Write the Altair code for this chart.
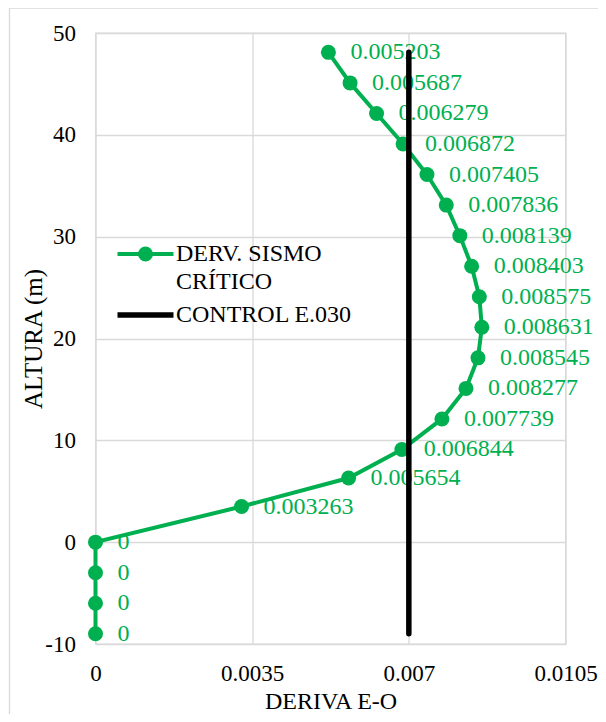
import altair as alt
import pandas as pd

# ---- data ----
alturas = [48.1, 45.1, 42.1, 39.1, 36.1, 33.1, 30.1, 27.1, 24.1, 21.1,
           18.1, 15.1, 12.1, 9.1, 6.3, 3.5, 0, -3, -6, -9]
derivas = [0.005203, 0.005687, 0.006279, 0.006872, 0.007405, 0.007836,
           0.008139, 0.008403, 0.008575, 0.008631, 0.008545, 0.008277,
           0.007739, 0.006844, 0.005654, 0.003263, 0, 0, 0, 0]
etiquetas = ["0.005203", "0.005687", "0.006279", "0.006872", "0.007405",
             "0.007836", "0.008139", "0.008403", "0.008575", "0.008631",
             "0.008545", "0.008277", "0.007739", "0.006844", "0.005654",
             "0.003263", "0", "0", "0", "0"]
control_x = [0.007, 0.007]
control_y = [-9, 48.1]
series = ["DERV. SISMO|CRÍTICO", "CONTROL E.030"]
x_ticks = [0, 0.0035, 0.007, 0.0105]
y_ticks = [-10, 0, 10, 20, 30, 40, 50]

GREEN = "#00B050"
FONT = "Liberation Serif"

df = pd.DataFrame({"idx": range(len(alturas)), "deriva": derivas,
                   "altura": alturas, "label": etiquetas, "serie": series[0]})
dfc = pd.DataFrame({"idx": range(2), "deriva": control_x, "altura": control_y,
                    "serie": series[1]})

xs = alt.Scale(domain=[0, 0.0105], nice=False, zero=False)
ys = alt.Scale(domain=[-10, 50], nice=False, zero=False)

x_enc = alt.X("deriva:Q", scale=xs, title="DERIVA E-O",
              axis=alt.Axis(values=x_ticks, labelExpr="toString(datum.value)",
                            grid=True, gridColor="#d9d9d9", gridWidth=1.3,
                            domain=False, ticks=False, labelPadding=18,
                            labelFont=FONT, labelFontSize=23, labelColor="#000",
                            titleFont=FONT, titleFontSize=24, titleFontWeight="normal",
                            titleColor="#000", titlePadding=4, labelFlush=False))
y_enc = alt.Y("altura:Q", scale=ys, title="ALTURA (m)",
              axis=alt.Axis(values=y_ticks, labelExpr="toString(datum.value)",
                            grid=True, gridColor="#d9d9d9",
                            gridWidth=1.3, domain=False, ticks=False,
                            labelPadding=20, labelFont=FONT, labelFontSize=23,
                            labelColor="#000", titleFont=FONT, titleFontSize=25,
                            titleFontWeight="normal", titleColor="#000",
                            titlePadding=-2, labelFlush=False))

green_path = "M-5.6,0L5.6,0M1.1,0A1.1,1.1,0,1,1,-1.1,0A1.1,1.1,0,1,1,1.1,0"
line_path = "M-5.6,0L5.6,0"

color = alt.Color("serie:N",
                  scale=alt.Scale(domain=[series[0]], range=[GREEN]),
                  legend=alt.Legend(title=None, orient="none", legendX=38,
                                    legendY=209, symbolType=green_path,
                                    symbolSize=100, symbolStrokeWidth=4,
                                    symbolStrokeColor=GREEN, symbolFillColor=GREEN,
                                    labelExpr="split(datum.label, '|')",
                                    labelFont=FONT, labelFontSize=24,
                                    labelColor="#000", labelOffset=18.5,
                                    labelLimit=400, padding=0))

border = alt.Chart(alt.Data(values=[{"a": 1}])).mark_rect(
    fillOpacity=0, stroke="#d9d9d9", strokeWidth=1.3).encode(
    x=alt.value(-86), x2=alt.value(700), y=alt.value(-25), y2=alt.value(900))

points = alt.Chart(df).mark_point(filled=True, size=225, opacity=1).encode(
    x=x_enc, y=y_enc, color=color)
line = alt.Chart(df).mark_line(strokeWidth=4).encode(
    x=x_enc, y=y_enc, order="idx:Q", color=color)
labels = alt.Chart(df).mark_text(align="left", baseline="middle", dx=22,
                                 font=FONT, fontSize=24, color=GREEN).encode(
    x=x_enc, y=y_enc, text="label:N")
control = alt.Chart(dfc).mark_line(color="#000", strokeWidth=5.5,
                                   strokeCap="round").encode(
    x=x_enc, y=y_enc, order="idx:Q",
    strokeDash=alt.StrokeDash("serie:N",
                              scale=alt.Scale(domain=[series[1]], range=[[1, 0]]),
                              legend=alt.Legend(title=None, orient="none",
                                                legendX=38, legendY=270,
                                                symbolType=line_path,
                                                symbolSize=100,
                                                symbolStrokeWidth=5.5,
                                                symbolStrokeColor="#000",
                                                labelFont=FONT, labelFontSize=24,
                                                labelColor="#000", labelOffset=18.5,
                                                labelLimit=400, padding=0)))

chart = alt.layer(border, line, points, labels, control).properties(
    width=470, height=611, autosize="none",
    padding={"left": 87.5, "top": 25, "right": 32.5, "bottom": 70},
).configure(
    font=FONT, style={"guide-label": {"lineHeight": 28, "font": FONT}}
).configure_view(stroke="#d9d9d9", strokeWidth=1.3)

chart.save("out.html", embed_options={"renderer": "svg", "actions": False})
